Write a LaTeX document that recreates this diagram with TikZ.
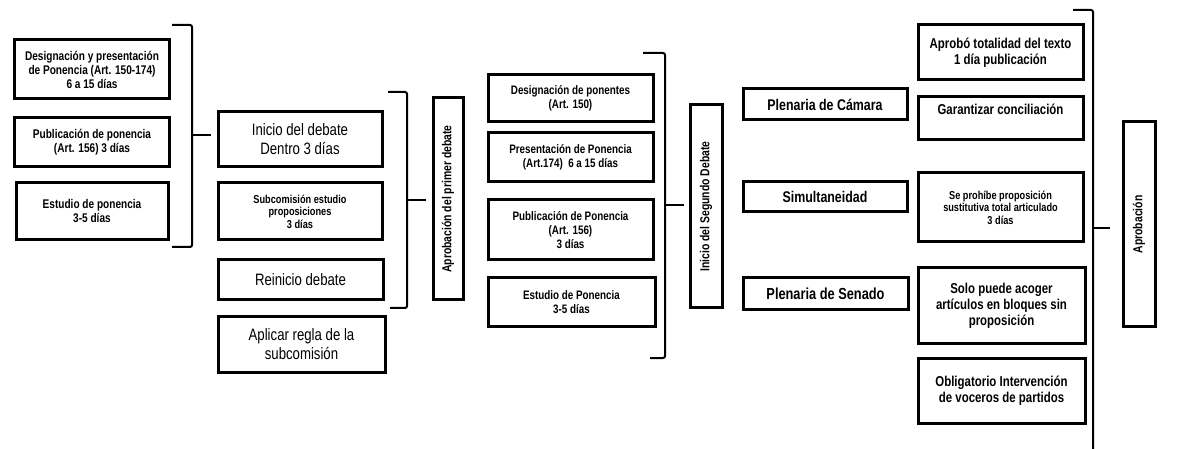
\documentclass[tikz,border=0pt]{standalone}
\usepackage{fontspec}
\setmainfont{Liberation Sans}[FakeStretch=0.8]
\newcommand{\fs}[2]{\fontsize{#1}{#2}\selectfont}
\begin{document}
\begin{tikzpicture}[x=1pt,y=-1pt,
  box/.style={draw, line width=3pt, inner sep=1pt, align=center,
    font=\bfseries\fs{12.6}{14}},
  midbox/.style={box, font=\bfseries\fs{12.3}{14}},
  bigbox/.style={box, font=\fs{16.5}{19}},
  smallbox/.style={box, font=\bfseries\fs{11.5}{12.5}},
  plbox/.style={box, font=\bfseries\fs{15.5}{17}},
  rbox/.style={box, font=\bfseries\fs{14.3}{16}},
  vbox/.style={draw, line width=3pt, inner sep=0pt},
  vlabel/.style={rotate=90, font=\bfseries\fs{13}{15}},
  brace/.style={line width=2pt, rounded corners=2pt}]
\useasboundingbox (0,0) rectangle (1179,449);
% column 1
\node[box, minimum width=155pt, minimum height=59pt] (a) at (92,69.5) {Designación y presentación\\de Ponencia (Art. 150-174)\\6 a 15 días};
\node[box, minimum width=155pt, minimum height=49pt] (b) at (92,142.5) {Publicación de ponencia\\(Art. 156) 3 días};
\node[box, minimum width=152pt, minimum height=57pt] (c) at (92,211.5) {Estudio de ponencia\\3-5 días};
% column 2
\node[bigbox, minimum width=164pt, minimum height=55pt] (d) at (300,139.5) {Inicio del debate\\Dentro 3 días};
\node[smallbox, minimum width=164pt, minimum height=57pt] (e) at (300,211.5) {Subcomisión estudio\\proposiciones\\3 días};
\node[bigbox, minimum width=165pt, minimum height=40pt] (f) at (300.5,280) {Reinicio debate};
\node[bigbox, minimum width=167pt, minimum height=55pt] (g) at (301.5,344.5) {Aplicar regla de la\\subcomisión};
% vertical 1
\node[vbox, minimum width=30pt, minimum height=202pt] (v1) at (448,199) {};
\node[vlabel] at (v1.center) {Aprobación del primer debate};
% column 3
\node[midbox, minimum width=165pt, minimum height=47pt] (h) at (570.5,98.5) {Designación de ponentes\\(Art. 150)};
\node[midbox, minimum width=165pt, minimum height=49pt] (i) at (570.5,157.5) {Presentación de Ponencia\\(Art.174)\ \ 6 a 15 días};
\node[midbox, minimum width=165pt, minimum height=60pt] (j) at (570.5,230) {Publicación de Ponencia\\(Art. 156)\\3 días};
\node[midbox, minimum width=167pt, minimum height=49pt] (k) at (571.5,302.5) {Estudio de Ponencia\\3-5 días};
% vertical 2
\node[vbox, minimum width=32pt, minimum height=203pt] (v2) at (706,206.5) {};
\node[vlabel] at (v2.center) {Inicio del Segundo Debate};
% column 4
\node[plbox, minimum width=164pt, minimum height=31pt] (l) at (825,104.5) {Plenaria de Cámara};
\node[plbox, minimum width=164pt, minimum height=30pt] (m) at (825,197) {Simultaneidad};
\node[plbox, minimum width=165pt, minimum height=32pt, font=\bfseries\fs{16}{17}] (n) at (825.5,294) {Plenaria de Senado};
% column 5
\node[rbox, minimum width=165pt, minimum height=55pt] (o) at (1000.5,52.5) {Aprobó totalidad del texto\\1 día publicación};
\node[rbox, minimum width=165pt, minimum height=43pt, anchor=north] (p) at (1000.5,95) {Garantizar conciliación\\[2pt]};
\node[smallbox, minimum width=165pt, minimum height=69pt] (q) at (1000.5,207.5) {Se prohíbe proposición\\sustitutiva total articulado\\3 días};
\node[rbox, minimum width=167pt, minimum height=75pt] (r) at (1001.5,305.5) {Solo puede acoger\\artículos en bloques sin\\proposición};
\node[rbox, minimum width=167pt, minimum height=65pt] (s) at (1001.5,390.5) {Obligatorio Intervención\\de voceros de partidos};
% vertical 3
\node[vbox, minimum width=32pt, minimum height=205pt] (v3) at (1139,224.5) {};
\node[vlabel] at (v3.center) {Aprobación};
% braces
\coordinate (b1t) at (172,25); \coordinate (b1b) at (172,247);
\draw[brace] (b1t) -- (192,25) -- (192,135) -- (192,247) -- (b1b);
\draw[brace] (192,135) -- ([xshift=-6pt]d.west |- 0,135);
\coordinate (b2t) at (388,92); \coordinate (b2b) at (390,308);
\draw[brace] (b2t) -- (407,92) -- (407,200) -- (407,308) -- (b2b);
\draw[brace] (407,200) -- ([xshift=-6pt]v1.west |- 0,200);
\coordinate (b3t) at (643,53); \coordinate (b3b) at (650,358);
\draw[brace] (b3t) -- (665,53) -- (665,205) -- (665,358) -- (b3b);
\draw[brace] (665,205) -- ([xshift=-5pt]v2.west |- 0,205);
\coordinate (b4t) at (1073,10); \coordinate (b4b) at (1093,449);
\draw[brace] (b4t) -- (1093,10) -- (1093,228) -- (b4b);
\draw[brace] (1093,228) -- ([xshift=-12pt]v3.west |- 0,228);
\end{tikzpicture}
\end{document}
